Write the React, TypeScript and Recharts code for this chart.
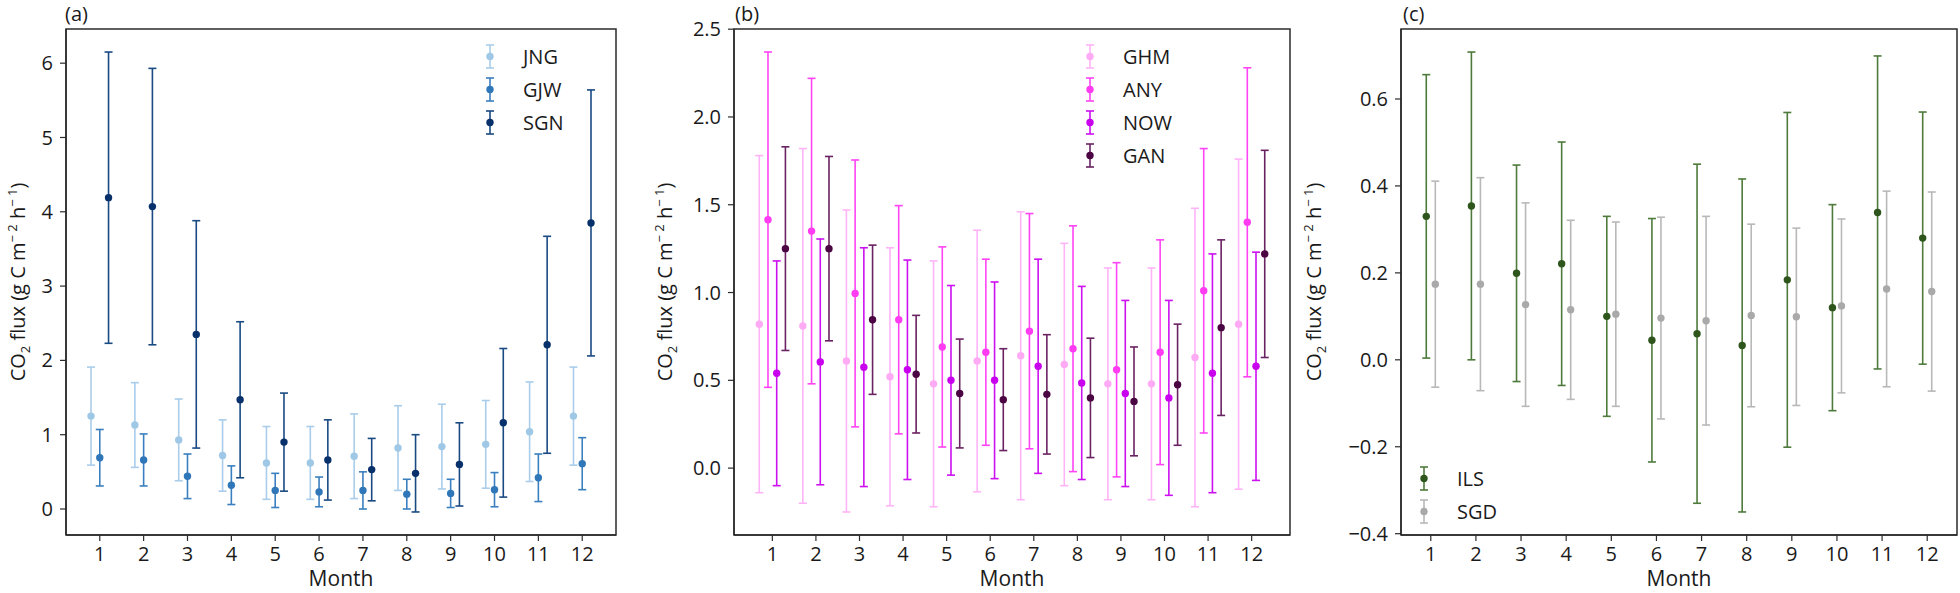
import React from 'react';
import { ScatterChart, Scatter, XAxis, YAxis, ErrorBar, ReferenceArea } from 'recharts';

const FONT = "'Open Sans', 'Noto Sans', sans-serif";
const TEXT = '#1a1a1a';
const FRAME = '#2b2b2b';

const MONTHS = [1, 2, 3, 4, 5, 6, 7, 8, 9, 10, 11, 12];

// ---- Panel (a)
const jngMean = [1.25, 1.13, 0.93, 0.72, 0.62, 0.62, 0.71, 0.82, 0.84, 0.87, 1.04, 1.25];
const jngErr = [0.66, 0.57, 0.55, 0.48, 0.49, 0.49, 0.57, 0.57, 0.57, 0.59, 0.67, 0.66];
const gjwMean = [0.69, 0.66, 0.44, 0.32, 0.25, 0.23, 0.25, 0.2, 0.21, 0.26, 0.42, 0.61];
const gjwErr = [0.38, 0.35, 0.3, 0.26, 0.23, 0.2, 0.25, 0.2, 0.19, 0.23, 0.32, 0.35];
const sgnMean = [4.19, 4.07, 2.35, 1.47, 0.9, 0.66, 0.53, 0.48, 0.6, 1.16, 2.21, 3.85];
const sgnErr = [1.96, 1.86, 1.53, 1.05, 0.66, 0.54, 0.42, 0.52, 0.56, 1.0, 1.46, 1.79];

// ---- Panel (b)
const ghmMean = [0.82, 0.81, 0.61, 0.52, 0.48, 0.61, 0.64, 0.59, 0.48, 0.48, 0.63, 0.82];
const ghmErr = [0.96, 1.01, 0.86, 0.735, 0.7, 0.745, 0.82, 0.69, 0.66, 0.66, 0.85, 0.94];
const anyMean = [1.415, 1.35, 0.995, 0.845, 0.69, 0.66, 0.78, 0.68, 0.56, 0.66, 1.01, 1.4];
const anyErr = [0.955, 0.87, 0.76, 0.65, 0.57, 0.53, 0.67, 0.7, 0.61, 0.64, 0.81, 0.88];
const nowMean = [0.54, 0.605, 0.575, 0.56, 0.5, 0.5, 0.58, 0.485, 0.425, 0.4, 0.54, 0.58];
const nowErr = [0.64, 0.7, 0.68, 0.625, 0.54, 0.56, 0.61, 0.55, 0.53, 0.555, 0.68, 0.65];
const ganMean = [1.25, 1.25, 0.845, 0.535, 0.425, 0.39, 0.42, 0.4, 0.38, 0.475, 0.8, 1.22];
const ganErr = [0.58, 0.525, 0.425, 0.335, 0.31, 0.29, 0.34, 0.34, 0.31, 0.345, 0.5, 0.59];

// ---- Panel (c)
const ilsMean = [0.33, 0.354, 0.199, 0.221, 0.1, 0.045, 0.06, 0.033, 0.184, 0.12, 0.339, 0.28];
const ilsErr = [0.326, 0.354, 0.249, 0.28, 0.23, 0.28, 0.39, 0.383, 0.385, 0.237, 0.36, 0.29];
const sgdMean = [0.174, 0.174, 0.127, 0.115, 0.105, 0.096, 0.09, 0.102, 0.099, 0.124, 0.163, 0.157];
const sgdErr = [0.237, 0.245, 0.234, 0.206, 0.212, 0.232, 0.24, 0.21, 0.204, 0.2, 0.225, 0.229];

const yTicksA = [0, 1, 2, 3, 4, 5, 6];
const yTicksB = [0, 0.5, 1, 1.5, 2, 2.5];
const yTicksC = [-0.4, -0.2, 0, 0.2, 0.4, 0.6];

interface SeriesDef {
  name: string;
  mean: number[];
  err: number[];
  offset: number;
  line: string;
  dot: string;
}

const seriesA: SeriesDef[] = [
  { name: 'JNG', mean: jngMean, err: jngErr, offset: -0.2, line: '#a9cdea', dot: '#9fc8e6' },
  { name: 'GJW', mean: gjwMean, err: gjwErr, offset: 0, line: '#3a7fbf', dot: '#2f77b8' },
  { name: 'SGN', mean: sgnMean, err: sgnErr, offset: 0.2, line: '#1a4a82', dot: '#08306b' },
];
const seriesB: SeriesDef[] = [
  { name: 'GHM', mean: ghmMean, err: ghmErr, offset: -0.3, line: '#ffb4f8', dot: '#ffaaf4' },
  { name: 'ANY', mean: anyMean, err: anyErr, offset: -0.1, line: '#ff44f4', dot: '#ff3cf2' },
  { name: 'NOW', mean: nowMean, err: nowErr, offset: 0.1, line: '#cc10f0', dot: '#c800ee' },
  { name: 'GAN', mean: ganMean, err: ganErr, offset: 0.3, line: '#6a2262', dot: '#4a0542' },
];
const seriesC: SeriesDef[] = [
  { name: 'ILS', mean: ilsMean, err: ilsErr, offset: -0.1, line: '#4e7a3b', dot: '#2e561c' },
  { name: 'SGD', mean: sgdMean, err: sgdErr, offset: 0.1, line: '#b8b8b8', dot: '#a9a9a9' },
];

const buildData = (s: SeriesDef) =>
  MONTHS.map((m, i) => ({ x: m + s.offset, y: s.mean[i], err: s.err[i] }));

const makeDot = (color: string) => (props: any) => (
  <circle cx={props.cx} cy={props.cy} r={3.7} fill={color} />
);

const YLabel = ({ px, py }: { px: number; py: number }) => (
  <text
    transform={`translate(${px},${py}) rotate(-90)`}
    textAnchor="middle"
    fontFamily={FONT}
    fontSize={20}
    fill={TEXT}
  >
    CO
    <tspan fontSize={13} dy={5}>2</tspan>
    <tspan dy={-5}> flux (g C m</tspan>
    <tspan fontSize={13} dy={-8}>{'\u2212 2'}</tspan>
    <tspan dy={8}> h</tspan>
    <tspan fontSize={13} dy={-8}>{'\u2212 1'}</tspan>
    <tspan dy={8}>)</tspan>
  </text>
);

const LegendGlyph = ({ s }: { s: SeriesDef }) => (
  <svg width={16} height={33} style={{ display: 'block' }}>
    <line x1={8} x2={8} y1={5} y2={28} stroke={s.line} strokeWidth={1.6} />
    <line x1={4} x2={12} y1={5} y2={5} stroke={s.line} strokeWidth={1.6} />
    <line x1={4} x2={12} y1={28} y2={28} stroke={s.line} strokeWidth={1.6} />
    <circle cx={8} cy={16.5} r={3.7} fill={s.dot} />
  </svg>
);

interface PanelProps {
  left: number;
  width: number;
  yAxisWidth: number;
  marginRight: number;
  xDomain: [number, number];
  yDomain: [number, number];
  yTicks: number[];
  fmt: (v: number) => string;
  series: SeriesDef[];
  title: string;
  ylabelX: number;
  legendLeft: number;
  legendTop: number;
}

function Panel(p: PanelProps) {
  const tickStyle = { fill: TEXT, fontSize: 20, fontFamily: FONT };
  return (
    <div style={{ position: 'absolute', left: p.left, top: 0, width: p.width, height: 593 }}>
      <ScatterChart
        width={p.width}
        height={593}
        margin={{ top: 29, right: p.marginRight, bottom: 0, left: 0 }}
      >
        <XAxis
          type="number"
          dataKey="x"
          domain={p.xDomain}
          allowDataOverflow
          ticks={MONTHS}
          interval={0}
          height={58}
          tickSize={6}
          tickMargin={6}
          tick={tickStyle}
          axisLine={{ stroke: FRAME, strokeWidth: 1.5 }}
          tickLine={{ stroke: FRAME, strokeWidth: 1.2 }}
          label={{ value: 'Month', position: 'insideBottom', offset: 7, fill: TEXT, fontSize: 21, fontFamily: FONT }}
        />
        <YAxis
          type="number"
          dataKey="y"
          domain={p.yDomain}
          allowDataOverflow
          ticks={p.yTicks}
          interval={0}
          width={p.yAxisWidth}
          tickSize={6}
          tickMargin={7}
          tick={tickStyle}
          tickFormatter={p.fmt}
          axisLine={{ stroke: FRAME, strokeWidth: 1.5 }}
          tickLine={{ stroke: FRAME, strokeWidth: 1.2 }}
          label={<YLabel px={p.ylabelX} py={282} />}
        />
        <ReferenceArea
          x1={p.xDomain[0]}
          x2={p.xDomain[1]}
          y1={p.yDomain[0]}
          y2={p.yDomain[1]}
          fill="none"
          fillOpacity={0}
          stroke={FRAME}
          strokeWidth={1.5}
          strokeOpacity={1}
        />
        {p.series.map((s) => (
          <Scatter
            key={s.name}
            name={s.name}
            data={buildData(s)}
            dataKey="y"
            fill={s.dot}
            shape={makeDot(s.dot)}
            isAnimationActive={false}
          >
            <ErrorBar dataKey="err" direction="y" width={4} stroke={s.line} strokeWidth={1.6} />
          </Scatter>
        ))}
      </ScatterChart>
      <div
        style={{
          position: 'absolute',
          left: p.title === '(a)' ? 65 : p.title === '(b)' ? 95 : 103,
          top: 1,
          fontFamily: FONT,
          fontSize: 20,
          lineHeight: '26px',
          color: TEXT,
        }}
      >
        {p.title}
      </div>
      <div
        style={{
          position: 'absolute',
          left: p.legendLeft,
          top: p.legendTop,
          fontFamily: FONT,
          fontSize: 20,
          color: TEXT,
        }}
      >
        {p.series.map((s) => (
          <div key={s.name} style={{ display: 'flex', alignItems: 'center', height: 33 }}>
            <LegendGlyph s={s} />
            <span style={{ marginLeft: 25, lineHeight: '33px' }}>{s.name}</span>
          </div>
        ))}
      </div>
    </div>
  );
}

const fmtInt = (v: number) => String(v);
const fmtOne = (v: number) => (v < 0 ? '\u2212' : '') + Math.abs(v).toFixed(1);

export default function App() {
  return (
    <div style={{ position: 'fixed', left: 0, top: 0, width: 1960, height: 593, background: '#fff', overflow: 'hidden' }}>
      <Panel
        left={0}
        width={640}
        yAxisWidth={66}
        marginRight={24}
        xDomain={[0.23, 12.77]}
        yDomain={[-0.35, 6.46]}
        yTicks={yTicksA}
        fmt={fmtInt}
        series={seriesA}
        title="(a)"
        ylabelX={25}
        legendLeft={482}
        legendTop={40}
      />
      <Panel
        left={640}
        width={660}
        yAxisWidth={94}
        marginRight={10}
        xDomain={[0.12, 12.88]}
        yDomain={[-0.381, 2.501]}
        yTicks={yTicksB}
        fmt={fmtOne}
        series={seriesB}
        title="(b)"
        ylabelX={32}
        legendLeft={442}
        legendTop={40}
      />
      <Panel
        left={1300}
        width={660}
        yAxisWidth={101}
        marginRight={3}
        xDomain={[0.34, 12.66]}
        yDomain={[-0.403, 0.761]}
        yTicks={yTicksC}
        fmt={fmtOne}
        series={seriesC}
        title="(c)"
        ylabelX={21}
        legendLeft={116}
        legendTop={462}
      />
    </div>
  );
}
